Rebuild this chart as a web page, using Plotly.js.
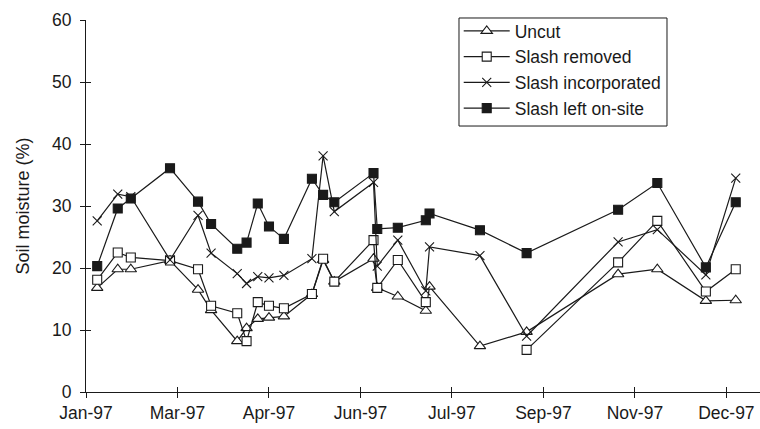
<!DOCTYPE html>
<html>
<head>
<meta charset="utf-8">
<script src="https://cdn.plot.ly/plotly-3.0.1.min.js"></script>
<style>html,body{margin:0;padding:0;background:#fff;}#chart{width:760px;height:429px;}</style>
</head>
<body>
<div id="chart"></div>
<script>
var dates = ['1997-01-21','1997-02-01','1997-02-08','1997-03-01','1997-03-16','1997-03-23','1997-04-06','1997-04-11','1997-04-17','1997-04-23','1997-05-01','1997-05-16','1997-05-22','1997-05-28','1997-06-18','1997-06-20','1997-07-01','1997-07-16','1997-07-18','1997-08-14','1997-09-08','1997-10-27','1997-11-17','1997-12-13','1997-12-29'];
var uncut = [16.8,19.8,19.8,21.2,16.5,13.2,8.2,10.3,11.8,12.0,12.2,15.8,21.3,17.8,21.5,16.8,15.4,13.1,17.0,7.4,9.7,19.0,19.8,14.7,14.8];
var slashRemoved = [18.1,22.5,21.7,21.2,19.8,13.9,12.7,8.2,14.5,13.9,13.5,15.8,21.5,17.8,24.5,16.8,21.3,14.5,null,null,6.8,20.9,27.6,16.2,19.8];
var slashIncorporated = [27.6,31.9,31.5,21.3,28.5,22.4,19.1,17.5,18.6,18.4,18.8,21.5,38.1,29.1,33.8,20.3,24.5,16.3,23.4,22.0,9.0,24.2,26.2,18.9,34.5];
var slashLeft = [20.3,29.6,31.2,36.1,30.7,27.1,23.1,24.1,30.4,26.7,24.7,34.4,31.8,30.6,35.3,26.3,26.5,27.7,28.8,26.1,22.4,29.4,33.7,20.1,30.6];
var tickDates = ['1997-01-15','1997-03-05','1997-04-23','1997-06-11','1997-07-30','1997-09-17','1997-11-05','1997-12-24'];
var tickLabels = ['Jan-97','Mar-97','Apr-97','Jun-97','Jul-97','Sep-97','Nov-97','Dec-97'];
var xRange = ['1997-01-15','1998-01-11'];

var ink = '#1a1a1a';
var font = 'Liberation Sans, Arial, sans-serif';
function tr(name, y, sym, fill, size){
  return {x: dates, y: y, name: name, type: 'scatter', mode: 'lines+markers', connectgaps: false,
    line: {color: ink, width: 1.2},
    marker: {symbol: sym, size: size, color: fill, line: {color: ink, width: 1.1}}};
}
var data = [
  tr('Uncut', uncut, 'triangle-up', '#ffffff', 10),
  tr('Slash removed', slashRemoved, 'square', '#ffffff', 9),
  tr('Slash incorporated', slashIncorporated, 'x-thin', ink, 9),
  tr('Slash left on-site', slashLeft, 'square', ink, 9),
  {x: [], y: [], xaxis: 'x2', yaxis: 'y2', type: 'scatter', mode: 'markers', showlegend: false, hoverinfo: 'skip'}
];
var layout = {
  width: 760, height: 429,
  margin: {l: 86, r: 0, t: 20, b: 37},
  paper_bgcolor: '#fff', plot_bgcolor: '#fff',
  font: {family: font, size: 17.5, color: ink},
  showlegend: true,
  legend: {x: 0.553, y: 1.0188, xanchor: 'left', yanchor: 'top', borderwidth: 0,
    bgcolor: 'rgba(0,0,0,0)', font: {family: font, size: 17.5, color: ink}, itemwidth: 46, traceorder: 'normal'},
  shapes: [{type: 'rect', xref: 'paper', yref: 'paper', x0: 0.5534, x1: 0.862, y0: 0.715, y1: 1.0054,
    line: {color: ink, width: 1}, fillcolor: 'rgba(0,0,0,0)', layer: 'above'}],
  xaxis: {type: 'date', range: xRange, tickmode: 'array', tickvals: tickDates, ticktext: tickLabels,
    showgrid: false, zeroline: false, showline: true, linecolor: ink, linewidth: 1,
    ticks: 'outside', ticklen: 5, tickcolor: ink, tickfont: {family: font, size: 17.5, color: ink}},
  yaxis: {range: [0, 60], dtick: 10, tick0: 0, showgrid: false, zeroline: false, showline: true,
    linecolor: ink, linewidth: 1, ticks: 'outside', ticklen: 5, tickcolor: ink, ticklabelstandoff: 5,
    tickfont: {family: font, size: 17.5, color: ink},
    title: {text: '\u00A0\u00A0\u00A0\u00A0\u00A0\u00A0Soil moisture (%)', font: {family: font, size: 18, color: ink}, standoff: 17}},
  xaxis2: {type: 'date', range: xRange, overlaying: 'x', anchor: 'y', tickmode: 'array', tickvals: tickDates,
    showticklabels: false, showgrid: false, zeroline: false, showline: false, ticks: 'inside', ticklen: 5, tickcolor: ink},
  yaxis2: {range: [0, 60], dtick: 10, tick0: 0, overlaying: 'y', anchor: 'x', side: 'left',
    showticklabels: false, showgrid: false, zeroline: false, showline: false, ticks: 'inside', ticklen: 5, tickcolor: ink}
};
Plotly.newPlot('chart', data, layout, {displayModeBar: false, staticPlot: true});
</script>
</body>
</html>
